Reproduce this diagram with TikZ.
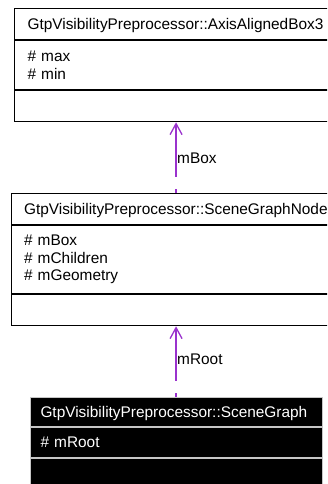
\documentclass[tikz,border=0pt]{standalone}
\usepackage{fontspec}
\setmainfont{Liberation Sans}
\usetikzlibrary{arrows.meta,positioning}
\definecolor{usecolor}{HTML}{9A32CD}

\begin{document}
\begin{tikzpicture}[
  x=1pt, y=-1pt, every node/.style={font=\fontsize{15.4}{17.5}\selectfont},
  classrow/.style={draw, line width=1.1pt, inner xsep=13pt, inner ysep=0pt,
                   align=left},
  titlerow/.style={classrow, text height=11.5pt, text depth=0pt,
                   minimum height=31pt},
  focus/.style={fill=black, text=white, draw=gray!45, line width=1pt,
                inner xsep=10pt},
  uses/.style={draw=usecolor, line width=1.3pt, dash pattern=on 53pt off 12pt,
               {Straight Barb[length=11pt, width=12pt]}-},
  memberlabel/.style={anchor=west, inner sep=0.5pt}
]
  \useasboundingbox (0,0) rectangle (327,484);
  \clip (0,0) rectangle (327,484);

  % AxisAlignedBox3
  \node[titlerow, anchor=north west, text width=297pt] (boxtitle) at (14,8)
        {GtpVisibilityPreprocessor::AxisAlignedBox3};
  \node[classrow, below=0pt of boxtitle, text width=297pt, minimum height=49pt]
        (boxattr) {\# max\\\# min};
  \node[classrow, below=0pt of boxattr, text width=297pt, minimum height=31pt]
        (boxops) {};

  % SceneGraphNode
  \node[titlerow, anchor=north west, text width=304pt] (nodetitle) at (10.5,193)
        {GtpVisibilityPreprocessor::SceneGraphNode};
  \node[classrow, below=0pt of nodetitle, text width=304pt, minimum height=68pt]
        (nodeattr) {\# mBox\\\# mChildren\\\# mGeometry};
  \node[classrow, below=0pt of nodeattr, text width=304pt, minimum height=31pt]
        (nodeops) {};

  % SceneGraph
  \node[titlerow, focus, anchor=north west, text width=272pt, minimum height=29pt]
        (graphtitle) at (30,397) {GtpVisibilityPreprocessor::SceneGraph};
  \node[classrow, focus, below=0pt of graphtitle, text width=272pt,
        minimum height=30pt] (graphattr) {\# mRoot};
  \node[classrow, focus, below=0pt of graphattr, text width=272pt,
        minimum height=34pt] (graphops) {};

  \draw[uses] (boxops.south) -- (boxops.south |- nodetitle.north)
        node[memberlabel, pos=0.51] {mBox};
  \draw[uses] (nodeops.south) -- (nodeops.south |- graphtitle.north)
        node[memberlabel, pos=0.47] {mRoot};
\end{tikzpicture}
\end{document}
